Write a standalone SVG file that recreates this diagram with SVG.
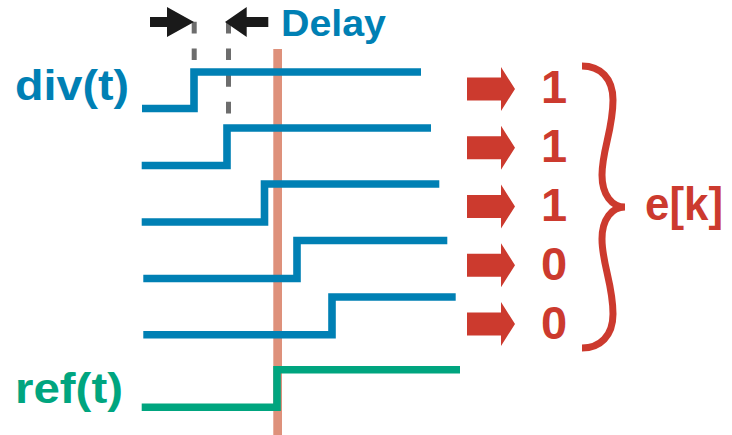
<svg xmlns="http://www.w3.org/2000/svg" width="732" height="435" viewBox="0 0 732 435">
  <style>
    .label { font-family: "Liberation Sans", Arial, sans-serif; font-weight: bold; }
    .blue { fill: #0080b4; }
    .green { fill: #00a57f; }
    .red { fill: #cc3a2e; }
    .wave { fill: none; stroke-width: 7.6; stroke-linejoin: miter; stroke-linecap: butt; }
    .div { stroke: #0080b4; }
    .ref { stroke: #00a57f; }
    .dash { stroke: #6d6d6d; stroke-width: 5; stroke-dasharray: 11.7 15; fill: none; }
  </style>
  <defs>
    <!-- thick red block arrow, centred on y=0 -->
    <path id="bit-arrow" d="M467,-11.5 H501 V-22 L515,0 L501,22 V11.5 H467 Z" fill="#cc3a2e"/>
  </defs>

  <!-- sampling instant -->
  <g id="sample-line">
    <rect x="273.3" y="49" width="8.7" height="386" fill="#de917b"/>
  </g>

  <!-- delay markers -->
  <g id="delay">
    <line class="dash" x1="194.2" y1="21.7" x2="194.2" y2="70"/>
    <line class="dash" x1="228.5" y1="21.7" x2="228.5" y2="114"/>
    <path d="M150,17 H167 V7 L194,22 L167,37 V27 H150 Z" fill="#1a1a1a"/>
    <path d="M268.3,17 H246.7 V7 L225,22 L246.7,37 V27 H268.3 Z" fill="#1a1a1a"/>
    <text class="label blue" x="281" y="36" font-size="37" textLength="105" lengthAdjust="spacingAndGlyphs">Delay</text>
  </g>

  <!-- delayed div(t) edges -->
  <g id="div-waves">
    <text class="label blue" x="15" y="100" font-size="42" textLength="114" lengthAdjust="spacingAndGlyphs">div(t)</text>
    <path class="wave div" d="M142,108.5 H194 V72 H421"/>
    <path class="wave div" d="M141.7,165.5 H227 V128 H431"/>
    <path class="wave div" d="M141.7,222 H264.5 V184 H439.3"/>
    <path class="wave div" d="M143.3,278.5 H297 V240.5 H447.3"/>
    <path class="wave div" d="M143.3,334.7 H332 V297 H455.7"/>
  </g>

  <!-- reference edge -->
  <g id="ref-wave">
    <text class="label green" x="15" y="403" font-size="42" textLength="108" lengthAdjust="spacingAndGlyphs">ref(t)</text>
    <path class="wave ref" d="M141.7,407.2 H277 V369.7 H460"/>
  </g>

  <!-- sampled bits -->
  <g id="bits">
    <use href="#bit-arrow" y="89"/>
    <use href="#bit-arrow" y="147.75"/>
    <use href="#bit-arrow" y="206.5"/>
    <use href="#bit-arrow" y="265.25"/>
    <use href="#bit-arrow" y="324"/>
    <g class="label red" font-size="47" text-anchor="middle">
      <text x="554" y="103">1</text>
      <text x="554" y="161.75">1</text>
      <text x="554" y="220.5">1</text>
      <text x="554" y="280">0</text>
      <text x="554" y="338.5">0</text>
    </g>
  </g>

  <!-- output word -->
  <g id="ek">
    <path d="M582,66 C600,66 613,78 613,100 C613,130 602,150 602,175 C602,195 612,207 625,207 C612,207 602,219 602,239 C602,264 613,284 613,314 C613,336 600,348 582,348" fill="none" stroke="#cc3a2e" stroke-width="7"/>
    <text class="label red" x="645" y="220" font-size="46" textLength="78" lengthAdjust="spacingAndGlyphs">e[k]</text>
  </g>
</svg>
